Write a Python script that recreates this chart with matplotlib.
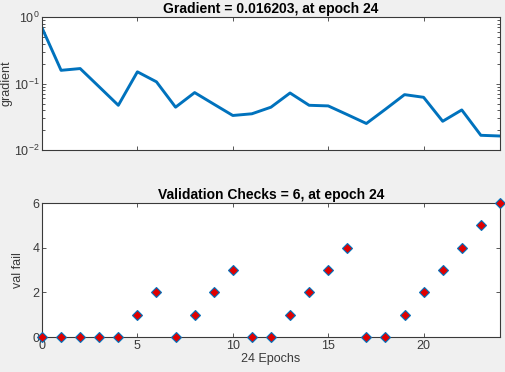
import matplotlib
matplotlib.use("Agg")
import matplotlib.pyplot as plt
from matplotlib.ticker import LogLocator, NullFormatter

plt.rcParams['font.family'] = ['Liberation Sans', 'DejaVu Sans']
plt.rcParams['mathtext.default'] = 'regular'

epochs = list(range(25))
gradient = [0.69, 0.158, 0.168, 0.089, 0.047, 0.150, 0.106, 0.044, 0.073, 0.049,
            0.033, 0.035, 0.044, 0.072, 0.047, 0.046, 0.034, 0.025, 0.041, 0.068,
            0.062, 0.027, 0.040, 0.0166, 0.016203]
val_fail = [0, 0, 0, 0, 0, 1, 2, 0, 1, 2, 3, 0, 0, 1, 2, 3, 4, 0, 0, 1, 2, 3, 4, 5, 6]
x_ticks = [0, 5, 10, 15, 20]
val_ticks = [0, 2, 4, 6]
grad_ticks = [1e-2, 1e-1, 1e0]
grad_tick_labels = ['$10^{-2}$', '$10^{-1}$', '$10^{0}$']

bg = '#f0f0f0'
axc = '#3a3a3a'
blue = '#0072BD'
fs = 9

fig = plt.figure(figsize=(5.06, 3.72), dpi=100, facecolor=bg)

ax1 = fig.add_axes([0.083, 0.597, 0.905, 0.357])
ax2 = fig.add_axes([0.083, 0.094, 0.905, 0.360])

for ax in (ax1, ax2):
    ax.set_facecolor('white')
    for s in ax.spines.values():
        s.set_color(axc)
        s.set_linewidth(0.8)
    ax.tick_params(direction='in', top=True, right=True, colors=axc,
                   labelsize=fs, length=3, width=0.6, which='both', pad=2)
    ax.tick_params(which='minor', length=2)

ax1.plot(epochs, gradient, color=blue, linewidth=2.1)
ax1.set_yscale('log')
ax1.set_ylim(1e-2, 1e0)
ax1.set_xlim(0, 24)
ax1.set_xticks(x_ticks)
ax1.set_xticklabels([])
ax1.set_yticks(grad_ticks)
ax1.set_yticklabels(grad_tick_labels)
ax1.yaxis.set_minor_locator(LogLocator(base=10, subs=range(2, 10)))
ax1.yaxis.set_minor_formatter(NullFormatter())
ax1.set_ylabel('gradient', fontsize=fs, color=axc)
ax1.yaxis.set_label_coords(-0.064, 0.5)
ax1.set_title('Gradient = 0.016203, at epoch 24', fontsize=10, fontweight='bold',
              color='black', pad=3)

ax2.plot(epochs, val_fail, linestyle='none', marker='D', markersize=5.3,
         markerfacecolor='#e00000', markeredgecolor=blue, markeredgewidth=0.8,
         clip_on=False, zorder=5)
ax2.set_xlim(0, 24)
ax2.set_ylim(0, 6)
ax2.set_xticks(x_ticks)
ax2.set_yticks(val_ticks)
ax2.set_ylabel('val fail', fontsize=fs, color=axc)
ax2.yaxis.set_label_coords(-0.04, 0.5)
ax2.set_xlabel('24 Epochs', fontsize=fs, color=axc, labelpad=1)
ax2.set_title('Validation Checks = 6, at epoch 24', fontsize=10, fontweight='bold',
              color='black', pad=3)

fig.savefig('out.png', dpi=100, facecolor=bg)
